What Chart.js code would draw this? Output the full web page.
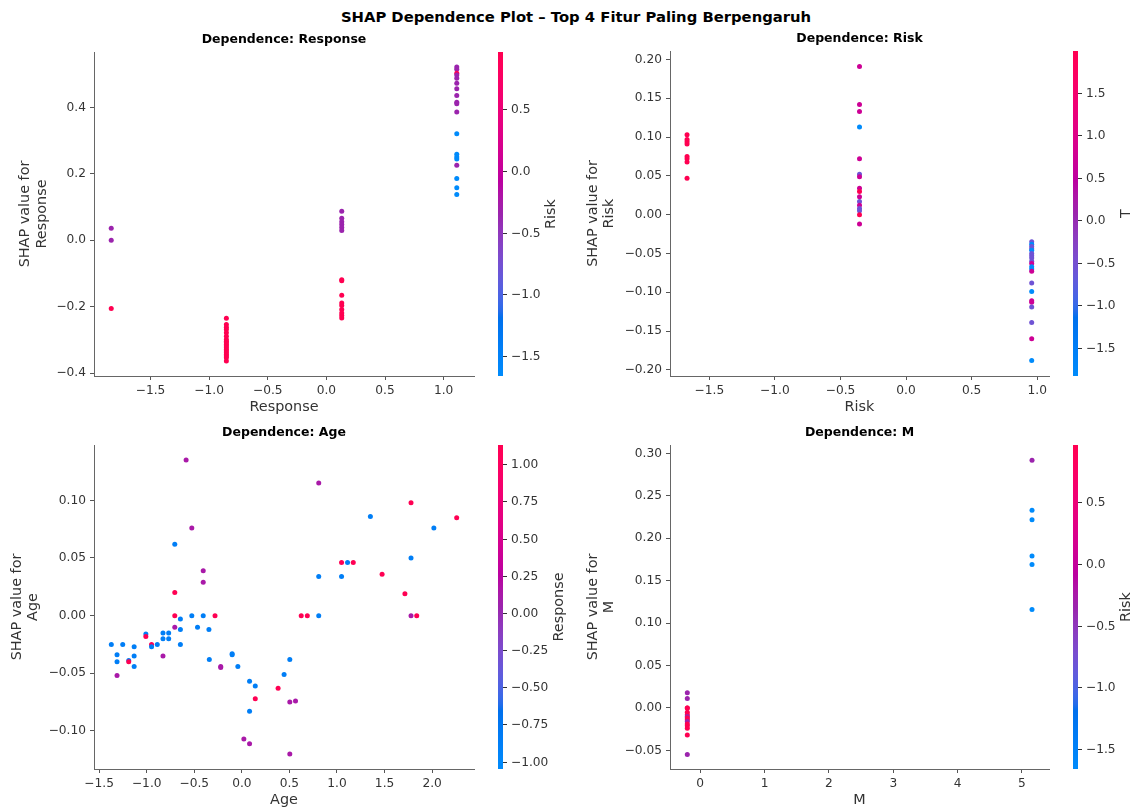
<!DOCTYPE html>
<html>
<head>
<meta charset="utf-8">
<title>SHAP Dependence Plot</title>
<script src="https://cdn.jsdelivr.net/npm/chart.js@4.4.1/dist/chart.umd.min.js"></script>
<style>
  html, body { margin: 0; padding: 0; background: #fff; }
  body { width: 1132px; height: 807px; position: relative; overflow: hidden; font-family: 'DejaVu Sans', sans-serif; }
  #suptitle { position: absolute; top: 8px; left: 576px; transform: translateX(-50%); font-weight: bold; font-size: 14.8px; white-space: nowrap; color: #000; }
  canvas { position: absolute; }
</style>
</head>
<body>
<div id="suptitle">SHAP Dependence Plot – Top 4 Fitur Paling Berpengaruh</div>
<canvas id="depResponse" width="566" height="392" style="left:0;top:28px"></canvas>
<canvas id="depRisk" width="566" height="392" style="left:566px;top:28px"></canvas>
<canvas id="depAge" width="566" height="395" style="left:0;top:420px"></canvas>
<canvas id="depM" width="566" height="395" style="left:566px;top:420px"></canvas>
<script>
// --- Response (coloured by Risk)
const responseX = [-1.835, -1.835, -1.835,
  -0.853, -0.853, -0.853, -0.853, -0.853, -0.853, -0.853, -0.853, -0.853, -0.853,
  -0.853, -0.853, -0.853, -0.853, -0.853, -0.853, -0.853, -0.853, -0.853,
  0.131, 0.131, 0.131, 0.131, 0.131, 0.131, 0.131, 0.131, 0.131, 0.131, 0.131, 0.131, 0.131, 0.131, 0.131,
  1.112, 1.112, 1.112, 1.112, 1.112, 1.112, 1.112, 1.112, 1.112, 1.112,
  1.112, 1.112, 1.112, 1.112, 1.112, 1.112, 1.112, 1.112, 1.112];
const responseShap = [0.036, 0.000, -0.206,
  -0.235, -0.254, -0.262, -0.269, -0.279, -0.289, -0.299, -0.304, -0.309, -0.314,
  -0.319, -0.324, -0.329, -0.334, -0.339, -0.344, -0.349, -0.354, -0.364,
  0.087, 0.066, 0.056, 0.047, 0.038, 0.029, -0.119, -0.122, -0.166, -0.189, -0.197, -0.209, -0.219, -0.227, -0.234,
  0.522, 0.515, 0.503, 0.498, 0.488, 0.473, 0.456, 0.436, 0.416, 0.411,
  0.386, 0.321, 0.259, 0.251, 0.245, 0.226, 0.186, 0.158, 0.138];
const responseRisk = [-0.35, -0.35, 0.96,
  0.96, 0.96, 0.96, 0.96, 0.96, 0.96, 0.96, 0.96, 0.96, 0.96,
  0.96, 0.96, 0.96, 0.96, 0.96, 0.96, 0.96, 0.96, 0.96,
  -0.35, -0.35, -0.35, -0.35, -0.35, -0.35, 0.96, 0.96, 0.96, 0.96, 0.96, 0.96, 0.96, 0.96, 0.96,
  -0.35, -0.35, 0.96, -0.35, -0.35, -0.35, -0.35, -0.35, -0.35, -0.35,
  -0.35, -1.66, -1.66, -1.66, -1.66, -0.35, -1.66, -1.66, -1.66];
const responseXTicks = [-1.5, -1.0, -0.5, 0.0, 0.5, 1.0];
const responseYTicks = [-0.4, -0.2, 0.0, 0.2, 0.4];
const responseCbTicks = [-1.5, -1.0, -0.5, 0.0, 0.5];

// --- Risk (coloured by T)
const riskX = [-1.67, -1.67, -1.67, -1.67, -1.67, -1.67, -1.67, -1.67,
  -0.355, -0.355, -0.355, -0.355, -0.355, -0.355, -0.355, -0.355,
  -0.355, -0.355, -0.355, -0.355, -0.355, -0.355, -0.355, -0.355,
  0.958, 0.958, 0.958, 0.958, 0.958, 0.958, 0.958, 0.958, 0.958, 0.958, 0.958,
  0.958, 0.958, 0.958, 0.958, 0.958, 0.958, 0.958, 0.958, 0.958, 0.958];
const riskShap = [0.103, 0.097, 0.094, 0.091, 0.075, 0.072, 0.068, 0.047,
  0.191, 0.142, 0.133, 0.113, 0.072, 0.052, 0.049, 0.034,
  0.030, 0.023, 0.017, 0.012, 0.008, 0.005, 0.000, -0.012,
  -0.035, -0.038, -0.041, -0.044, -0.046, -0.050, -0.053, -0.056, -0.060, -0.063, -0.067,
  -0.070, -0.073, -0.088, -0.099, -0.111, -0.113, -0.119, -0.139, -0.160, -0.188];
const riskT = [1.99, 1.99, 1.99, 1.99, 1.99, 1.99, 1.99, 1.99,
  0.72, 0.72, 0.72, -1.83, 0.72, -0.56, 0.72, 0.72,
  1.99, 0.72, -0.56, 0.72, -0.56, -0.56, 1.99, 0.72,
  -0.56, -1.83, -0.56, -0.56, -1.83, -0.56, -0.56, -0.56, -0.56, 0.72, -1.83,
  -1.83, 0.72, -0.56, -1.83, 0.72, 0.72, -0.56, -0.56, 0.72, -1.83];
const riskXTicks = [-1.5, -1.0, -0.5, 0.0, 0.5, 1.0];
const riskYTicks = [-0.20, -0.15, -0.10, -0.05, 0.00, 0.05, 0.10, 0.15, 0.20];
const riskCbTicks = [-1.5, -1.0, -0.5, 0.0, 0.5, 1.0, 1.5];

// --- Age (coloured by Response)
const ageX = [-1.372, -1.312, -1.312, -1.312, -1.252, -1.189, -1.189, -1.132, -1.132, -1.132,
  -1.009, -1.009, -0.949, -0.949, -0.889, -0.829, -0.829, -0.829, -0.769, -0.769,
  -0.705, -0.705, -0.705, -0.705, -0.646, -0.646, -0.646, -0.586, -0.526, -0.526,
  -0.466, -0.406, -0.406, -0.406, -0.346, -0.342, -0.282, -0.222, -0.222, -0.102,
  -0.102, -0.042, 0.021, 0.081, 0.081, 0.081, 0.141, 0.141, 0.381, 0.444,
  0.504, 0.504, 0.564, 0.504, 0.624, 0.688, 0.808, 0.808, 0.808, 1.048,
  1.048, 1.111, 1.171, 1.351, 1.474, 1.714, 1.778, 1.778, 1.778, 1.838,
  2.018, 2.258];
const ageShap = [-0.025, -0.034, -0.040, -0.052, -0.025, -0.039, -0.040, -0.027, -0.035, -0.044,
  -0.016, -0.018, -0.025, -0.027, -0.025, -0.015, -0.020, -0.035, -0.015, -0.020,
  0.062, 0.020, 0.000, -0.010, -0.003, -0.012, -0.025, 0.135, 0.076, 0.000,
  -0.010, 0.039, 0.029, 0.000, -0.012, -0.038, 0.000, -0.044, -0.045, -0.033,
  -0.034, -0.044, -0.107, -0.111, -0.057, -0.083, -0.061, -0.072, -0.063, -0.051,
  -0.038, -0.075, -0.074, -0.120, 0.000, 0.000, 0.000, 0.034, 0.115, 0.034,
  0.046, 0.046, 0.046, 0.086, 0.036, 0.019, 0.098, 0.050, 0.000, 0.000,
  0.076, 0.085];
const ageResponse = [-0.853, -0.853, -0.853, 0.131, -0.853, -0.853, 1.112, -0.853, -0.853, -0.853,
  -0.853, 1.112, 1.112, -0.853, -0.853, -0.853, -0.853, 0.131, -0.853, -0.853,
  -0.853, 1.112, 1.112, 0.131, -0.853, -0.853, -0.853, 0.131, 0.131, -0.853,
  -0.853, 0.131, 0.131, -0.853, -0.853, -0.853, 1.112, 0.131, 0.131, -0.853,
  -0.853, -0.853, 0.131, 0.131, -0.853, -0.853, -0.853, 1.112, 1.112, -0.853,
  -0.853, 0.131, 0.131, 0.131, 1.112, 1.112, -0.853, -0.853, 0.131, -0.853,
  1.112, -0.853, 1.112, -0.853, 1.112, 1.112, 1.112, -0.853, 0.131, 1.112,
  -0.853, 1.112];
const ageXTicks = [-1.5, -1.0, -0.5, 0.0, 0.5, 1.0, 1.5, 2.0];
const ageYTicks = [-0.10, -0.05, 0.00, 0.05, 0.10];
const ageCbTicks = [-1.00, -0.75, -0.50, -0.25, 0.00, 0.25, 0.50, 0.75, 1.00];

// --- M (coloured by Risk)
const mX = [5.156, 5.156, 5.156, 5.156, 5.156, 5.156,
  -0.201, -0.201, -0.201, -0.201, -0.201, -0.201, -0.201, -0.201,
  -0.201, -0.201, -0.201, -0.201, -0.201, -0.201, -0.201];
const mShap = [0.292, 0.233, 0.222, 0.179, 0.169, 0.116,
  0.018, 0.011, 0.000, 0.000, -0.005, -0.008, -0.010, -0.012,
  -0.014, -0.016, -0.019, -0.021, -0.024, -0.032, -0.055];
const mRisk = [-0.35, -1.66, -1.66, -1.66, -1.66, -1.66,
  -0.35, -0.35, 0.96, 0.96, 0.96, 0.96, -0.35, 0.96,
  0.96, -0.35, 0.96, 0.96, 0.96, 0.96, -0.35];
const mXTicks = [0, 1, 2, 3, 4, 5];
const mYTicks = [-0.05, 0.00, 0.05, 0.10, 0.15, 0.20, 0.25, 0.30];
const mCbTicks = [-1.5, -1.0, -0.5, 0.0, 0.5];

const FONT = 'DejaVu Sans';
const AXIS = '#333333';

// shap red_blue colormap (interpolated in LCH)
function lab2rgb(L, a, b) {
  const fy = (L + 16) / 116, fx = fy + a / 500, fz = fy - b / 200;
  const f = t => t > 6 / 29 ? t * t * t : 3 * (6 / 29) * (6 / 29) * (t - 4 / 29);
  const X = 0.95047 * f(fx), Y = f(fy), Z = 1.08883 * f(fz);
  const lin = [3.2406 * X - 1.5372 * Y - 0.4986 * Z,
    -0.9689 * X + 1.8758 * Y + 0.0415 * Z,
    0.0557 * X - 0.2040 * Y + 1.0570 * Z];
  return lin.map(c => {
    c = c <= 0.0031308 ? 12.92 * c : 1.055 * Math.pow(c, 1 / 2.4) - 0.055;
    return Math.round(255 * Math.min(1, Math.max(0, c)));
  });
}
function redBlue(t) {
  t = Math.min(1, Math.max(0, t));
  const L = t < 0.5 ? 54 - 14 * (t / 0.5) : 40 + 14 * ((t - 0.5) / 0.5);
  const C = 70 + 20 * t;
  const H = 4.6588 + (0.35470565 + 2 * Math.PI - 4.6588) * t;
  const [r, g, b] = lab2rgb(L, C * Math.cos(H), C * Math.sin(H));
  return `rgb(${r},${g},${b})`;
}

function fmt(v, d) {
  if (Math.abs(v) < 1e-9) v = 0;
  return v.toFixed(d).replace('-', '\u2212');
}

const panelPlugin = {
  id: 'panel',
  afterDraw(chart, args, opts) {
    const {ctx, chartArea: a} = chart;
    ctx.save();
    ctx.fillStyle = '#000';
    ctx.font = `bold 12.5px "${FONT}"`;
    ctx.textAlign = 'center';
    ctx.textBaseline = 'middle';
    ctx.fillText(opts.title, (a.left + a.right) / 2, a.top - 12);

    // colour bar
    const x0 = a.right + 24, w = 5, h = a.bottom - a.top;
    const grad = ctx.createLinearGradient(0, a.bottom, 0, a.top);
    for (let i = 0; i <= 50; i++) grad.addColorStop(i / 50, redBlue(i / 50));
    ctx.fillStyle = grad;
    ctx.fillRect(x0, a.top, w, h);

    const [lo, hi] = opts.range;
    ctx.font = `12.2px "${FONT}"`;
    ctx.fillStyle = AXIS;
    ctx.strokeStyle = AXIS;
    ctx.lineWidth = 1;
    ctx.textAlign = 'left';
    let maxW = 0;
    opts.ticks.forEach(v => {
      const y = Math.round(a.bottom - (v - lo) / (hi - lo) * h) + 0.5;
      ctx.beginPath();
      ctx.moveTo(x0 + w, y);
      ctx.lineTo(x0 + w + 4, y);
      ctx.stroke();
      const s = fmt(v, opts.decimals);
      ctx.fillText(s, x0 + w + 8, y);
      maxW = Math.max(maxW, ctx.measureText(s).width);
    });
    ctx.font = `14.4px "${FONT}"`;
    ctx.translate(x0 + w + 8 + maxW + 11, (a.top + a.bottom) / 2);
    ctx.rotate(-Math.PI / 2);
    ctx.textAlign = 'center';
    ctx.fillText(opts.label, 0, 0);
    ctx.restore();
  }
};

function axisOpts(min, max, ticks, dec, title, size, horizontal) {
  return {
    type: 'linear',
    min: min,
    max: max,
    afterBuildTicks: s => { s.ticks = ticks.map(v => ({value: v})); },
    afterFit: s => { if (horizontal) s.height = size; else s.width = size; },
    ticks: {
      callback: v => fmt(v, dec),
      font: {family: FONT, size: 12.2},
      color: AXIS,
      padding: 4,
      maxRotation: 0,
      autoSkip: false
    },
    grid: {drawOnChartArea: false, drawTicks: true, tickLength: 4, color: '#555'},
    border: {display: true, color: '#666', width: 1},
    title: {
      display: true,
      text: title,
      color: AXIS,
      font: {family: FONT, size: 14.4, lineHeight: 1.16},
      padding: {top: 1, bottom: 1}
    }
  };
}

function drawPanel(id, xs, ys, cs, o) {
  const canvas = document.getElementById(id);
  const W = canvas.width, H = canvas.height;
  const [L, T, R, B] = o.area;
  const points = xs.map((x, i) => ({x: x, y: ys[i]}));
  const colors = cs.map(c => redBlue((c - o.cbRange[0]) / (o.cbRange[1] - o.cbRange[0])));
  new Chart(canvas, {
    type: 'scatter',
    data: {
      datasets: [{
        data: points,
        pointBackgroundColor: colors,
        pointBorderWidth: 0,
        pointRadius: 2.5,
        pointHoverRadius: 2.5
      }]
    },
    options: {
      responsive: false,
      animation: false,
      layout: {padding: {left: L - o.yw, top: T, right: W - R, bottom: H - B - o.xh}},
      plugins: {
        legend: {display: false},
        tooltip: {enabled: false},
        panel: {title: o.title, label: o.cbLabel, range: o.cbRange, ticks: o.cbTicks, decimals: o.cbDec}
      },
      scales: {
        x: axisOpts(o.xRange[0], o.xRange[1], o.xTicks, o.xDec, o.xLabel, o.xh, true),
        y: axisOpts(o.yRange[0], o.yRange[1], o.yTicks, o.yDec, ['SHAP value for', o.xLabel], o.yw, false)
      }
    },
    plugins: [panelPlugin]
  });
}

drawPanel('depResponse', responseX, responseShap, responseRisk, {
  title: 'Dependence: Response', xLabel: 'Response', cbLabel: 'Risk',
  area: [94, 24, 474, 348], yw: 77.6, xh: 40.4,
  xRange: [-1.982, 1.259], yRange: [-0.409, 0.567],
  xTicks: responseXTicks, xDec: 1, yTicks: responseYTicks, yDec: 1,
  cbRange: [-1.66, 0.96], cbTicks: responseCbTicks, cbDec: 1
});

drawPanel('depRisk', riskX, riskShap, riskT, {
  title: 'Dependence: Risk', xLabel: 'Risk', cbLabel: 'T',
  area: [104, 23, 483, 348], yw: 86.3, xh: 40.4,
  xRange: [-1.80, 1.09], yRange: [-0.208, 0.211],
  xTicks: riskXTicks, xDec: 1, yTicks: riskYTicks, yDec: 2,
  cbRange: [-1.83, 1.99], cbTicks: riskCbTicks, cbDec: 1
});

drawPanel('depAge', ageX, ageShap, ageResponse, {
  title: 'Dependence: Age', xLabel: 'Age', cbLabel: 'Response',
  area: [94, 25, 474, 349], yw: 86.3, xh: 40.4,
  xRange: [-1.554, 2.44], yRange: [-0.133, 0.148],
  xTicks: ageXTicks, xDec: 1, yTicks: ageYTicks, yDec: 2,
  cbRange: [-1.05, 1.13], cbTicks: ageCbTicks, cbDec: 2
});

drawPanel('depM', mX, mShap, mRisk, {
  title: 'Dependence: M', xLabel: 'M', cbLabel: 'Risk',
  area: [104, 25, 483, 349], yw: 86.3, xh: 40.4,
  xRange: [-0.47, 5.42], yRange: [-0.072, 0.31],
  xTicks: mXTicks, xDec: 0, yTicks: mYTicks, yDec: 2,
  cbRange: [-1.66, 0.96], cbTicks: mCbTicks, cbDec: 1
});
</script>
</body>
</html>
